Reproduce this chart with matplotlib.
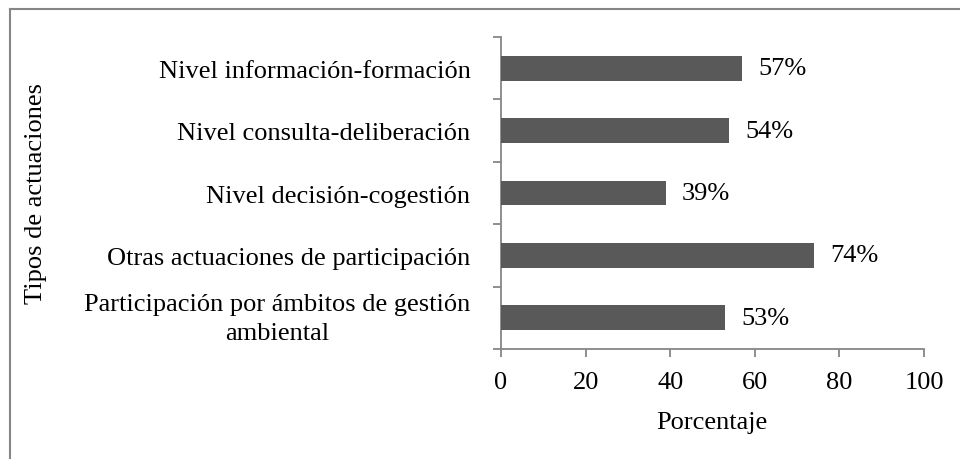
import matplotlib
matplotlib.use("Agg")
import matplotlib.pyplot as plt
from matplotlib.lines import Line2D
import matplotlib.transforms as mtransforms
import numpy as np

categories = [
    "Nivel información-formación",
    "Nivel consulta-deliberación",
    "Nivel decisión-cogestión",
    "Otras actuaciones de participación",
    "Participación por ámbitos de gestión\nambiental",
]
values = [57, 54, 39, 74, 53]
xticks = [0, 20, 40, 60, 80, 100]
xlabel = "Porcentaje"
ylabel = "Tipos de actuaciones"

plt.rcParams['font.family'] = ['Liberation Serif', 'DejaVu Serif']
FS = 19
W, H = 960, 460
fig = plt.figure(figsize=(W / 100, H / 100), dpi=100)
ax = fig.add_axes([501 / W, 1 - 350 / H, (924 - 501) / W, (350 - 38) / H])

n = len(categories)
pos = np.arange(n)
bar_color = "#595959"
axis_color = "#868686"
ax.barh(pos, values, height=0.4, color=bar_color, zorder=3)
ax.set_ylim(n - 0.5, -0.5)
ax.set_xlim(0, 100)

for p, v in zip(pos, values):
    ax.annotate(f"{v}%", xy=(v, p), xytext=(11.5, 0), textcoords="offset points",
                ha="left", va="center", fontsize=FS, color="black")

ax.set_yticks(pos)
ax.set_yticklabels(categories, fontsize=FS)
ax.tick_params(axis="y", which="major", length=0, pad=22)
fig.canvas.draw()
for t in ax.get_yticklabels():
    t.set_multialignment("center")
    t.set_linespacing(1.4)
    if "\n" in t.get_text():
        t.set_transform(t.get_transform() + mtransforms.ScaledTranslation(0, 5 / 100, fig.dpi_scale_trans))
ax.set_yticks(np.arange(-0.5, n, 1), minor=True)
ax.tick_params(axis="y", which="minor", length=5.5, width=1.3, color=axis_color, direction="out")

ax.set_xticks(xticks)
ax.set_xticklabels([str(x) for x in xticks], fontsize=FS)
ax.tick_params(axis="x", length=5.5, width=1.3, color=axis_color, direction="out", pad=10)

for s in ["top", "right"]:
    ax.spines[s].set_visible(False)
for s in ["left", "bottom"]:
    ax.spines[s].set_color(axis_color)
    ax.spines[s].set_linewidth(1.3)

fig.text(712 / W, 1 - 423 / H, xlabel, ha="center", va="center", fontsize=FS)
fig.text(36 / W, 1 - 193 / H, ylabel, ha="center", va="center", rotation=90, fontsize=FS)

# outer chart border (only top and left visible in the crop)
fig.add_artist(Line2D([9.5 / W, 1.0], [1 - 9.5 / H, 1 - 9.5 / H], transform=fig.transFigure,
                      color=axis_color, lw=1.5))
fig.add_artist(Line2D([9.5 / W, 9.5 / W], [1 - 9.5 / H, 0.0], transform=fig.transFigure,
                      color=axis_color, lw=1.5))

fig.savefig("out.png", dpi=100)
